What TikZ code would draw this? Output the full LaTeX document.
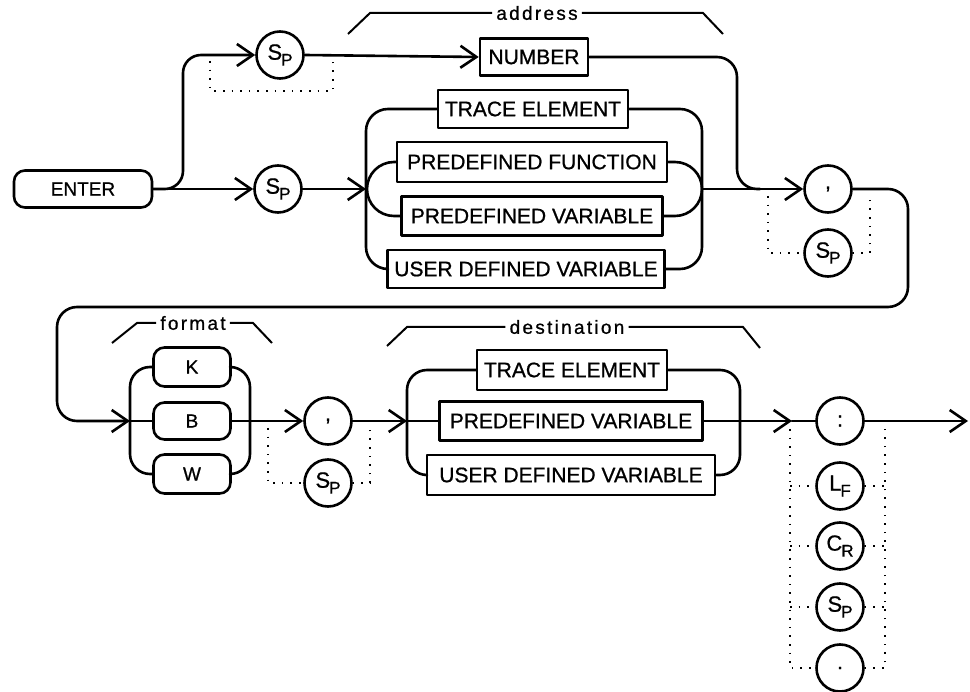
\documentclass[tikz,border=0pt]{standalone}
\usepackage{fontspec}
\setmainfont{Liberation Sans}
\newfontfamily\boxfont[FakeBold=0.8]{Liberation Sans}
\newfontfamily\lblfont[LetterSpace=12,FakeBold=0.8]{Liberation Sans}
\usetikzlibrary{arrows.meta}
\newcommand\ctrlch[2]{\fontsize{22}{22}\selectfont #1\kern-1pt\raisebox{-6pt}{\fontsize{17}{17}\selectfont #2}}
\begin{document}
\begin{tikzpicture}[x=1pt,y=-1pt,
  ln/.style={line width=2.6pt, line join=round, line cap=round},
  box/.style={ln, draw, rectangle, inner sep=0pt, font=\boxfont\fontsize{21}{21}\selectfont},
  rbox/.style={box, rounded corners=11pt, font=\boxfont\fontsize{19}{19}\selectfont},
  circ/.style={ln, draw, circle, minimum size=47pt, inner sep=0pt, font=\boxfont\fontsize{21}{21}\selectfont},
  arr/.style={-{Straight Barb[length=16pt,width=22pt]}},
  dots/.style={line width=1.6pt, dash pattern=on 1.6pt off 7pt},
  brace/.style={line width=2pt},
  lbl/.style={inner sep=4pt, font=\lblfont\fontsize{19}{19}\selectfont}
]
\useasboundingbox (0,0) rectangle (970,692);

% ---------- row 1 nodes ----------
\node[rbox, minimum width=138pt, minimum height=37pt] (enter) at (83,189) {ENTER};
\node[circ] (sp1) at (280,55) {\ctrlch{S}{P}};
\node[circ] (sp2) at (278,189) {\ctrlch{S}{P}};
\node[box, minimum width=108pt, minimum height=37pt] (number) at (534,57) {NUMBER};
\node[box, minimum width=190pt, minimum height=38pt] (te1) at (533,109) {TRACE ELEMENT};
\node[box, minimum width=270pt, minimum height=40pt] (pf) at (532,162) {PREDEFINED FUNCTION};
\node[box, minimum width=261pt, minimum height=39pt] (pv1) at (532,216) {PREDEFINED VARIABLE};
\node[box, minimum width=277pt, minimum height=38pt] (udv1) at (526,269) {USER DEFINED VARIABLE};
\node[circ] (comma1) at (828,189) {,};
\node[circ] (sp3) at (828,253) {\ctrlch{S}{P}};

% labels row 1
\node[lbl] (addr) at (537,13) {address};

% junction coordinates row 1
\coordinate (gl1) at (366,189);
\coordinate (gr1) at (702,189);
\coordinate (nj) at (760,189);
\coordinate (da1) at (210,61);
\coordinate (da2) at (333,61);
\coordinate (db1) at (768,196);
\coordinate (db2) at (870,196);

% ---------- row 1 connectors ----------
\draw[ln,arr] (enter.east) -- (sp2.west);
\draw[ln,arr,rounded corners=18pt] (enter.east) -- (183,189) -- (183,55) -- (sp1.west);
\draw[ln,arr] (sp1.east) -- (number.west);
\draw[dots] (da1) -- (210,91) -- (333,91) -- (da2);
\draw[ln,rounded corners=20pt] (number.east) -- (737,57) -- (737,189) -- (nj);
\draw[ln,arr] (sp2.east) -- (gl1);
\draw[ln,rounded corners=22pt] (te1.west) -- (366,109) -- (366,269) -- (udv1.west);
\draw[ln,rounded corners=27pt] (pf.west) -- (367,162) -- (367,216) -- (pv1.west);
\draw[ln,rounded corners=22pt] (te1.east) -- (702,109) -- (702,269) -- (udv1.east);
\draw[ln,rounded corners=27pt] (pf.east) -- (702,162) -- (702,216) -- (pv1.east);
\draw[ln,arr] (gr1) -- (comma1.west);
\draw[dots] (db1) -- (768,253) -- (sp3.west);
\draw[dots] (sp3.east) -- (870,253) -- (db2);
\draw[brace] (348,34) -- (370,13) -- (addr.west);
\draw[brace] (addr.east) -- (703,13) -- (723,34);

% ---------- row 2 nodes ----------
\node[rbox, minimum width=77pt, minimum height=39pt] (k) at (192,367) {K};
\node[rbox, minimum width=77pt, minimum height=37pt] (b) at (192,421) {B};
\node[rbox, minimum width=77pt, minimum height=39pt] (w) at (192,474) {W};
\node[circ] (comma2) at (328,421) {,};
\node[circ] (sp4) at (328,483) {\ctrlch{S}{P}};
\node[box, minimum width=190pt, minimum height=40pt] (te2) at (572,370) {TRACE ELEMENT};
\node[box, minimum width=263pt, minimum height=39pt] (pv2) at (571,421) {PREDEFINED VARIABLE};
\node[box, minimum width=288pt, minimum height=40pt] (udv2) at (571,475) {USER DEFINED VARIABLE};
\node[circ] (colon) at (840,421) {:};
\node[circ] (lf) at (840,486) {\ctrlch{L}{F}};
\node[circ] (cr) at (840,546) {\ctrlch{C}{R}};
\node[circ] (sp5) at (840,607) {\ctrlch{S}{P}};
\node[circ] (dotc) at (840,668) {.};

\node[lbl] (fmt) at (193,323) {format};
\node[lbl] (dest) at (567,327) {destination};

% junction coordinates row 2
\coordinate (fl) at (130,421);
\coordinate (dl) at (407,421);
\coordinate (cj) at (792,421);
\coordinate (endpt) at (968,421);
\coordinate (dc1) at (268,428);
\coordinate (dc2) at (370,427);
\coordinate (dd1) at (790,429);
\coordinate (dd2) at (885,429);

% ---------- loop and row 2 connectors ----------
\draw[ln,arr,rounded corners=20pt] (comma1.east) -- (908,189) -- (908,307) -- (57,307) -- (57,421) -- (fl);
\draw[ln] (fl) -- (b.west);
\draw[ln,rounded corners=20pt] (k.west) -- (130,367) -- (130,474) -- (w.west);
\draw[ln,rounded corners=20pt] (k.east) -- (250,367) -- (250,474) -- (w.east);
\draw[ln,arr] (b.east) -- (comma2.west);
\draw[dots] (dc1) -- (268,483) -- (sp4.west);
\draw[dots] (sp4.east) -- (370,483) -- (dc2);
\draw[ln,arr] (comma2.east) -- (dl);
\draw[ln] (dl) -- (pv2.west);
\draw[ln,rounded corners=20pt] (te2.west) -- (407,370) -- (407,475) -- (udv2.west);
\draw[ln,rounded corners=20pt] (te2.east) -- (740,370) -- (740,475) -- (udv2.east);
\draw[ln,arr] (pv2.east) -- (cj);
\draw[ln] (cj) -- (colon.west);
\draw[ln,arr] (colon.east) -- (endpt);
\draw[dots] (dd1) -- (790,668) -- (dotc.west);
\draw[dots] (dotc.east) -- (885,668) -- (dd2);
\draw[dots] (790,486) -- (lf.west);
\draw[dots] (790,546) -- (cr.west);
\draw[dots] (790,607) -- (sp5.west);
\draw[dots] (lf.east) -- (885,486);
\draw[dots] (cr.east) -- (885,546);
\draw[dots] (sp5.east) -- (885,607);
\draw[brace] (112,343) -- (137,323) -- (fmt.west);
\draw[brace] (fmt.east) -- (253,323) -- (272,343);
\draw[brace] (387,346) -- (407,327) -- (dest.west);
\draw[brace] (dest.east) -- (743,327) -- (760,348);
\end{tikzpicture}
\end{document}
